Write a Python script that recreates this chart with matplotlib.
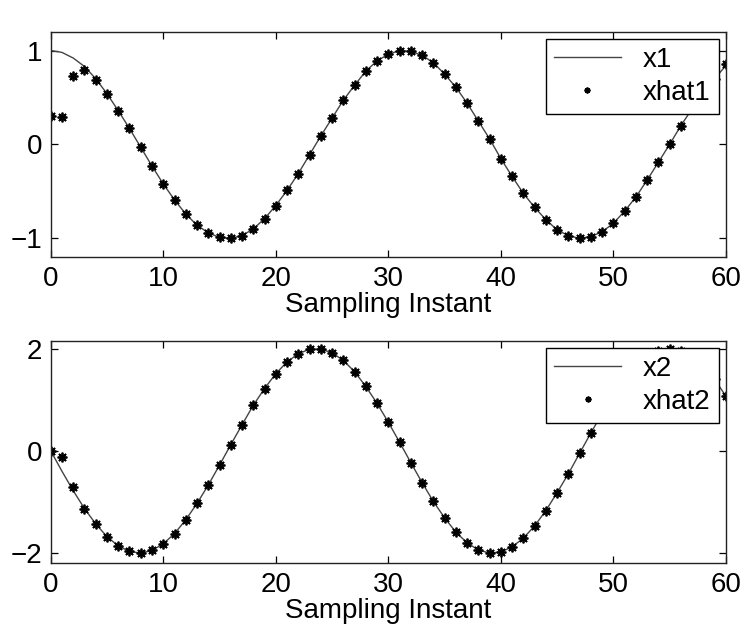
import matplotlib
matplotlib.use("Agg")
import matplotlib.pyplot as plt

plt.rcParams["font.family"] = ["Liberation Sans", "DejaVu Sans"]

# sampling instants 0..60
t = list(range(61))

x1 = [1.00, 0.98, 0.92, 0.83, 0.70, 0.54, 0.36, 0.17, -0.03, -0.23,
      -0.42, -0.59, -0.74, -0.86, -0.94, -0.99, -1.00, -0.97, -0.90, -0.79,
      -0.65, -0.49, -0.31, -0.11, 0.09, 0.28, 0.47, 0.63, 0.78, 0.89,
      0.96, 1.00, 0.99, 0.95, 0.87, 0.75, 0.61, 0.44, 0.25, 0.06,
      -0.15, -0.34, -0.52, -0.67, -0.80, -0.91, -0.97, -1.00, -0.98, -0.93,
      -0.84, -0.71, -0.56, -0.38, -0.19, 0.00, 0.20, 0.38, 0.55, 0.70,
      0.84]
xhat1 = [0.30, 0.29, 0.73, 0.79, 0.69, 0.54, 0.36, 0.17, -0.03, -0.23,
         -0.42, -0.59, -0.74, -0.86, -0.94, -0.99, -1.00, -0.97, -0.90, -0.79,
         -0.65, -0.49, -0.31, -0.11, 0.09, 0.28, 0.47, 0.63, 0.78, 0.89,
         0.96, 1.00, 0.99, 0.95, 0.87, 0.75, 0.61, 0.44, 0.25, 0.06,
         -0.15, -0.34, -0.52, -0.67, -0.80, -0.91, -0.97, -1.00, -0.98, -0.93,
         -0.84, -0.71, -0.56, -0.38, -0.19, 0.00, 0.20, 0.38, 0.55, 0.70,
         0.86]

x2 = [0.00, -0.40, -0.78, -1.13, -1.43, -1.68, -1.86, -1.97, -2.00, -1.95,
      -1.82, -1.62, -1.35, -1.03, -0.67, -0.28, 0.12, 0.51, 0.89, 1.22,
      1.51, 1.74, 1.90, 1.99, 1.99, 1.92, 1.77, 1.55, 1.26, 0.93,
      0.56, 0.17, -0.23, -0.62, -0.99, -1.31, -1.59, -1.80, -1.94, -2.00,
      -1.98, -1.88, -1.71, -1.47, -1.17, -0.82, -0.45, -0.05, 0.35, 0.73,
      1.09, 1.40, 1.66, 1.85, 1.96, 2.00, 1.96, 1.84, 1.65, 1.40,
      1.07]
xhat2 = [0.00, -0.13, -0.70, -1.13, -1.43, -1.68, -1.86, -1.97, -2.00, -1.95,
         -1.82, -1.62, -1.35, -1.03, -0.67, -0.28, 0.12, 0.51, 0.89, 1.22,
         1.51, 1.74, 1.90, 1.99, 1.99, 1.92, 1.77, 1.55, 1.26, 0.93,
         0.56, 0.17, -0.23, -0.62, -0.99, -1.31, -1.59, -1.80, -1.94, -2.00,
         -1.98, -1.88, -1.71, -1.47, -1.17, -0.82, -0.45, -0.05, 0.35, 0.73,
         1.09, 1.40, 1.66, 1.85, 1.96, 2.00, 1.96, 1.84, 1.65, 1.40,
         1.07]

xticks = [0, 10, 20, 30, 40, 50, 60]
asterisk = (8, 2, 0)


def style(ax, ylim, yticks):
    ax.set_xlim(0, 60)
    ax.set_ylim(*ylim)
    ax.set_xticks(xticks)
    ax.set_yticks(yticks)
    ax.tick_params(direction="in", length=5, width=0.9, labelsize=20,
                   top=True, right=True, pad=6)
    for s in ax.spines.values():
        s.set_linewidth(1.0)
        s.set_color("#222222")
    ax.set_xlabel("Sampling Instant", fontsize=20, labelpad=0)


fig = plt.figure(figsize=(7.46, 6.35), dpi=100)
ax1 = fig.add_axes([0.068, 0.595, 0.905, 0.355])
ax2 = fig.add_axes([0.068, 0.113, 0.905, 0.350])

ax1.plot(t, x1, color="#444444", lw=1.0, label="x1")
ax1.plot(t, xhat1, ls="none", marker=asterisk, ms=7, mew=1.3,
         color="black", label="xhat1")
style(ax1, (-1.2, 1.2), [-1, 0, 1])

ax2.plot(t, x2, color="#444444", lw=1.0, label="x2")
ax2.plot(t, xhat2, ls="none", marker=asterisk, ms=7, mew=1.3,
         color="black", label="xhat2")
style(ax2, (-2.2, 2.15), [-2, 0, 2])

for ax in (ax1, ax2):
    leg = ax.legend(loc="upper right", fontsize=20, fancybox=False,
                    framealpha=1, edgecolor="black",
                    bbox_to_anchor=(0.99, 0.97), borderaxespad=0,
                    handlelength=2.4, handletextpad=0.8, borderpad=0.3,
                    labelspacing=0.25, markerscale=0.6)
    leg.get_frame().set_linewidth(1.0)

fig.savefig("out.png", dpi=100)
